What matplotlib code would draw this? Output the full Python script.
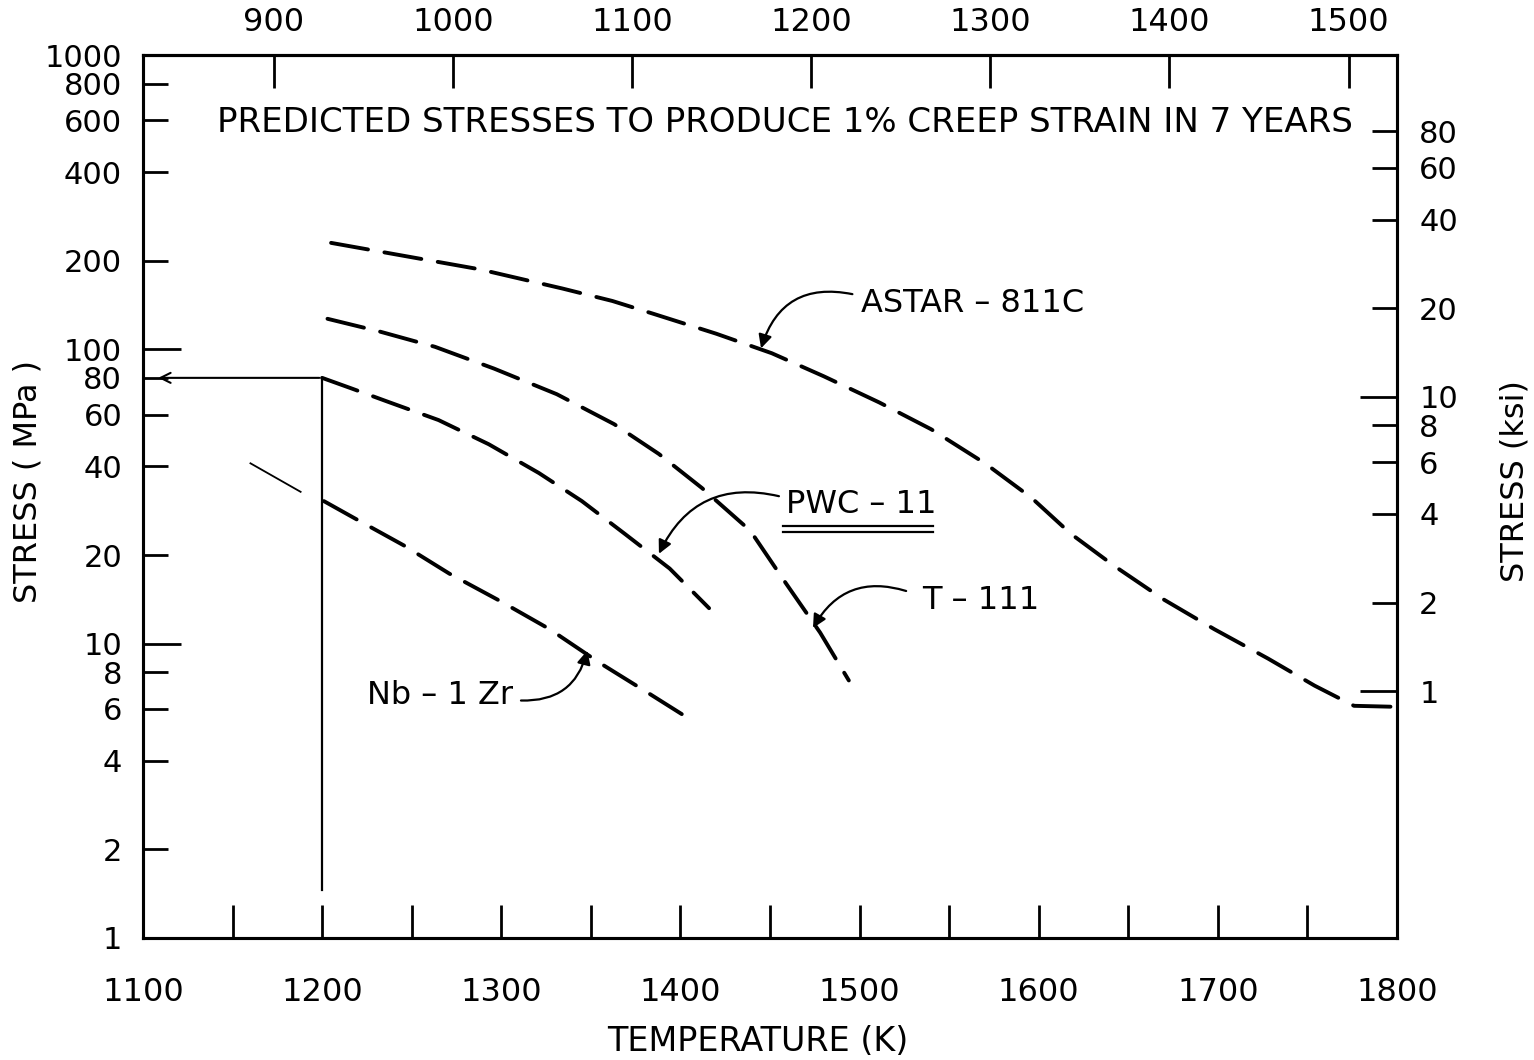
import matplotlib
matplotlib.use('Agg')
import matplotlib.pyplot as plt

plt.rcParams['font.family'] = ['DejaVu Sans']
plt.rcParams['lines.scale_dashes'] = False

# curves: temperature (K), stress (MPa)
astar_T = [1205, 1257, 1288, 1334, 1362, 1385, 1420, 1451, 1480, 1511, 1540,
           1570, 1596, 1618, 1642, 1670, 1698, 1728, 1754, 1776, 1800]
astar_S = [230, 202, 187, 161, 146, 132, 113, 97, 81, 66, 53.5,
           41, 31.3, 23.6, 18.4, 14.1, 11.2, 8.9, 7.2, 6.15, 6.1]

t111_T = [1203, 1232, 1263, 1296, 1331, 1363, 1388, 1412, 1439, 1459, 1478, 1494]
t111_S = [127, 115, 102, 86, 70.4, 55.7, 44.1, 33.8, 24.2, 16.0, 10.9, 7.5]

pwc_T = [1200, 1216, 1236, 1265, 1293, 1321, 1345, 1369, 1394, 1416]
pwc_S = [80, 73.8, 66.6, 57.5, 47.6, 38.0, 30.5, 23.6, 18.0, 13.2]

nb_T = [1201, 1218, 1246, 1271, 1299, 1327, 1355, 1382, 1402]
nb_S = [30.5, 26.7, 21.5, 17.3, 14.0, 11.2, 8.6, 6.8, 5.7]
# thin solid extrapolation in front of the Nb-1Zr curve
nb_ext_T = [1160, 1188]
nb_ext_S = [41, 32.8]

# axis ticks
mpa_major = [1, 10, 100, 1000]
mpa_minor = [2, 4, 6, 8, 20, 40, 60, 80, 200, 400, 600, 800]
ksi_major = [1, 10]
ksi_minor = [2, 4, 6, 8, 20, 40, 60, 80]
k_major = [1100, 1200, 1300, 1400, 1500, 1600, 1700, 1800]
k_minor = [1150, 1250, 1350, 1450, 1550, 1650, 1750]
c_ticks = [900, 1000, 1100, 1200, 1300, 1400, 1500]

MPA_PER_KSI = 6.895
FS = 22

fig = plt.figure(figsize=(15.34, 10.60), dpi=100)
ax = fig.add_axes([0.0932, 0.1151, 0.8175, 0.833])
ax.set_xlim(1100, 1800)
ax.set_yscale('log')
ax.set_ylim(1, 1000)

# dashed curves
dash = dict(color='k', lw=2.8, dashes=(27, 12), dash_capstyle='round')
for T, S in [(astar_T, astar_S), (t111_T, t111_S), (pwc_T, pwc_S), (nb_T, nb_S)]:
    ax.plot(T, S, **dash)
ax.plot(nb_ext_T, nb_ext_S, color='k', lw=1.3)

# 1200 K / 80 MPa guide lines
ax.plot([1200, 1200], [1.45, 80], color='k', lw=1.6)
ax.annotate('', xy=(1107, 80), xytext=(1200, 80),
            arrowprops=dict(arrowstyle='->', color='k', lw=1.5, mutation_scale=18))

# curve labels with curved arrows
lab = dict(fontsize=23, ha='left', va='center')
arr = dict(arrowstyle='-|>', color='k', lw=1.6, mutation_scale=20,
           shrinkA=0, shrinkB=0)
ax.text(1501, 143, 'ASTAR – 811C', **lab)
ax.annotate('', xy=(1445, 100.8), xytext=(1496, 154),
            arrowprops=dict(connectionstyle='arc3,rad=0.45', **arr))
ax.text(1459, 29.8, 'PWC – 11', **lab)
ax.annotate('', xy=(1388, 20.2), xytext=(1455, 31.7),
            arrowprops=dict(connectionstyle='arc3,rad=0.4', **arr))
ax.plot([0.510, 0.630], [0.4667, 0.4667], color='k', lw=1.6, transform=ax.transAxes)
ax.plot([0.510, 0.630], [0.4600, 0.4600], color='k', lw=1.6, transform=ax.transAxes)
ax.text(1535, 14.0, 'T – 111', **lab)
ax.annotate('', xy=(1474, 11.3), xytext=(1526, 15.1),
            arrowprops=dict(connectionstyle='arc3,rad=0.4', **arr))
ax.text(1225, 6.66, 'Nb – 1 Zr', **lab)
ax.annotate('', xy=(1348, 9.47), xytext=(1311, 6.41),
            arrowprops=dict(connectionstyle='arc3,rad=0.4', **arr))

ax.text(0.512, 0.924, 'PREDICTED STRESSES TO PRODUCE 1% CREEP STRAIN IN 7 YEARS',
        transform=ax.transAxes, ha='center', va='center', fontsize=24.5)

# left axis (MPa)
ax.set_yticks(mpa_major, labels=[str(v) for v in mpa_major])
ax.set_yticks(mpa_minor, labels=[str(v) for v in mpa_minor], minor=True)
ax.tick_params(axis='y', which='major', direction='in', length=27, width=2,
               labelsize=FS, pad=15, right=False)
ax.tick_params(axis='y', which='minor', direction='in', length=18, width=2,
               labelsize=FS, pad=15, right=False)
ax.set_ylabel('STRESS ( MPa )', fontsize=23)
ax.yaxis.set_label_coords(-0.079, 0.517)

# bottom axis (K)
ax.set_xticks(k_major, labels=[str(v) for v in k_major])
ax.set_xticks(k_minor, minor=True)
ax.tick_params(axis='x', which='both', direction='in', length=24, width=2,
               labelsize=23, pad=28, top=False)
ax.set_xlabel('TEMPERATURE (K)', fontsize=24)
ax.xaxis.set_label_coords(0.49, -0.098)

# top axis (deg C)
sec = ax.secondary_xaxis('top', functions=(lambda k: k - 273, lambda c: c + 273))
sec.set_xticks(c_ticks, labels=[str(v) for v in c_ticks])
sec.tick_params(axis='x', direction='in', length=24, width=2, labelsize=23, pad=12)

# right axis (ksi)
ax2 = ax.twinx()
ax2.set_yscale('log')
ax2.set_ylim(1 / MPA_PER_KSI, 1000 / MPA_PER_KSI)
ax2.set_yticks(ksi_major, labels=[str(v) for v in ksi_major])
ax2.set_yticks(ksi_minor, labels=[str(v) for v in ksi_minor], minor=True)
ax2.tick_params(axis='y', which='major', direction='in', length=27, width=2,
                labelsize=FS, pad=16)
ax2.tick_params(axis='y', which='minor', direction='in', length=18, width=2,
                labelsize=FS, pad=16)
ax2.set_ylabel('STRESS (ksi)', fontsize=23, rotation=90)
ax2.yaxis.set_label_coords(1.082, 0.517)

for a in (ax, ax2):
    for s in a.spines.values():
        s.set_linewidth(2.2)
sec.spines['top'].set_linewidth(2.2)

fig.savefig('out.png', dpi=100)
